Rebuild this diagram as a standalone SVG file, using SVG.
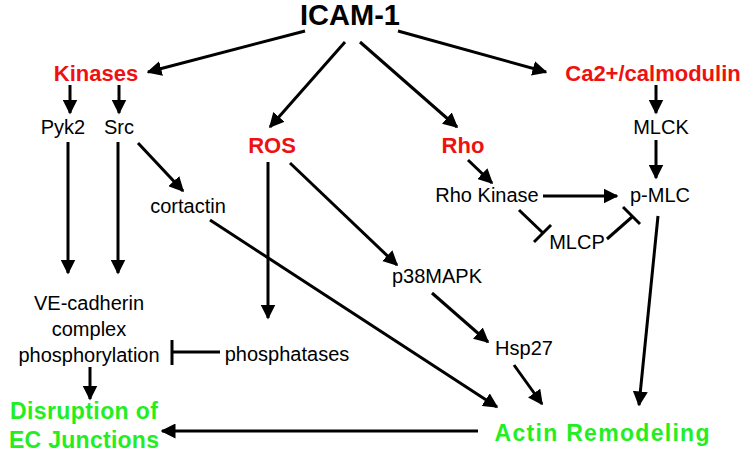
<svg xmlns="http://www.w3.org/2000/svg" width="750" height="456" viewBox="0 0 750 456">
<defs>
<marker id="a" viewBox="0 0 10 10" refX="9" refY="5" markerWidth="5" markerHeight="5" orient="auto"><path d="M0,0L10,5L0,10z" fill="#000"/></marker>
</defs>
<style>
text{font-family:"Liberation Sans",Arial,sans-serif;font-size:20px;fill:#000;text-anchor:middle}
.r{fill:#ee1111;font-weight:bold;font-size:22px}
.g{fill:#22ee22;font-weight:bold;font-size:23px}
.e line,.e path{stroke:#000;stroke-width:3;fill:none}
.e .m{marker-end:url(#a)}
</style>
<rect width="750" height="456" fill="#fff"/>
<g id="icam"><text x="350" y="25" style="font-size:29px;font-weight:bold">ICAM-1</text></g>
<g id="kinases"><text class="r" x="96" y="81">Kinases</text></g>
<g id="ca"><text class="r" x="653" y="81">Ca2+/calmodulin</text></g>
<g id="pyk2"><text x="63" y="134">Pyk2</text></g>
<g id="src"><text x="119" y="134">Src</text></g>
<g id="mlck"><text x="661" y="134">MLCK</text></g>
<g id="ros"><text class="r" x="272" y="153">ROS</text></g>
<g id="rho"><text class="r" x="463" y="153">Rho</text></g>
<g id="rhok"><text x="487" y="202">Rho Kinase</text></g>
<g id="pmlc"><text x="660" y="202">p-MLC</text></g>
<g id="cortactin"><text x="188" y="213">cortactin</text></g>
<g id="mlcp"><text x="577" y="249">MLCP</text></g>
<g id="p38"><text x="437" y="283">p38MAPK</text></g>
<g id="ve"><text x="89" y="310">VE-cadherin</text><text x="89" y="336">complex</text><text x="89" y="362">phosphorylation</text></g>
<g id="phos"><text x="287" y="361">phosphatases</text></g>
<g id="hsp"><text x="524" y="355">Hsp27</text></g>
<g id="disr"><text class="g" x="84" y="419" textLength="148" lengthAdjust="spacing">Disruption of</text><text class="g" x="84" y="448" textLength="150" lengthAdjust="spacing">EC Junctions</text></g>
<g id="actin"><text class="g" x="602" y="441" textLength="215" lengthAdjust="spacing">Actin Remodeling</text></g>
<g id="edges" class="e">
<line class="m" x1="305" y1="31" x2="148" y2="72"/>
<line class="m" x1="398" y1="31" x2="546" y2="72"/>
<line class="m" x1="345" y1="42" x2="270" y2="127"/>
<line class="m" x1="360" y1="42" x2="457" y2="127"/>
<line class="m" x1="70" y1="85" x2="70" y2="113"/>
<line class="m" x1="119" y1="85" x2="119" y2="113"/>
<line class="m" x1="656" y1="85" x2="656" y2="113"/>
<line class="m" x1="68" y1="142" x2="68" y2="273"/>
<line class="m" x1="118" y1="142" x2="118" y2="273"/>
<line class="m" x1="138" y1="143" x2="183" y2="191"/>
<line class="m" x1="656" y1="140" x2="656" y2="178"/>
<line class="m" x1="268" y1="162" x2="268" y2="318"/>
<line class="m" x1="290" y1="163" x2="397" y2="265"/>
<line class="m" x1="468" y1="160" x2="492" y2="183"/>
<line class="m" x1="543" y1="196" x2="617" y2="196"/>
<line class="m" x1="210" y1="220" x2="497" y2="407"/>
<line class="m" x1="658" y1="216" x2="639" y2="405"/>
<line class="m" x1="432" y1="293" x2="488" y2="342"/>
<line class="m" x1="514" y1="365" x2="542" y2="404"/>
<line class="m" x1="90" y1="367" x2="90" y2="399"/>
<line class="m" x1="478" y1="431" x2="162" y2="431"/>
<line x1="220" y1="352" x2="172" y2="352"/><line x1="172" y1="340" x2="172" y2="365"/>
<line x1="519" y1="210" x2="543" y2="233"/><line x1="534" y1="242" x2="551" y2="225"/>
<line x1="607" y1="239" x2="632" y2="217"/><line x1="623" y1="207" x2="640" y2="224"/>
</g>
</svg>
